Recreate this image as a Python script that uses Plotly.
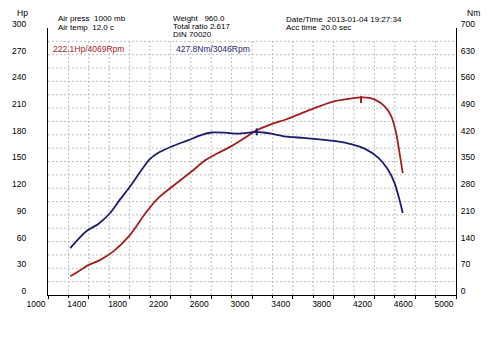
import plotly.graph_objects as go

# ---- data ----
rpm_hp = [1218, 1320, 1385, 1513, 1641, 1801, 1962, 2090, 2282, 2410, 2538, 2667,
          2795, 2923, 3019, 3179, 3340, 3500, 3660, 3820, 3981, 4069, 4150, 4205,
          4301, 4365, 4413, 4446, 4478]
power_hp = [21, 28, 33, 39.5, 49, 67, 93, 110, 127.5, 139, 151, 159.5,
            167, 176, 183.5, 191.5, 197.5, 205, 212, 218, 221, 222.1, 221.5, 219.5,
            212, 201, 182, 160, 137]

rpm_nm = [1218, 1320, 1385, 1497, 1609, 1705, 1801, 1897, 1993, 2090, 2218, 2378,
          2506, 2603, 2731, 2859, 2987, 3046, 3115, 3179, 3340, 3500, 3660, 3820,
          3981, 4109, 4237, 4333, 4397, 4446, 4478]
torque_nm = [123, 153, 169, 187, 215, 250, 283, 320, 355, 374, 390, 406,
             420, 426, 425.5, 423, 426, 427.8, 426, 423.5, 415, 412, 408, 403.5,
             395, 383, 360, 329, 294, 250, 215]

peak_hp = (4069, 222.1)
peak_nm = (3046, 427.8)

hp_ticks = list(range(0, 301, 30))
nm_ticks = list(range(0, 701, 70))
rpm_ticks = list(range(1000, 5001, 400))

header = [
    ("Air press  1000 mb", 48, 19.0),
    ("Air temp  12.0 c", 48, 27.8),
    ("Weight   960.0", 165, 18.8),
    ("Total ratio 2.617", 165, 26.8),
    ("DIN 70020", 165, 34.6),
    ("Date/Time  2013-01-04 19:27:34", 281, 19.5),
    ("Acc time  20.0 sec", 281, 27.8),
]

RED = "#a31e1e"
NAVY = "#1d1d6e"
FONT = "Liberation Sans"
FS = 8.5
HFS = 8

W, H = 500, 347
L, R, T, B = 40, 44, 28, 52
PW, PH = W - L - R, H - T - B


def px(x):
    return (x - L) / PW


def py(y):
    return (H - B - y) / PH


fig = go.Figure()

# grid (stops at 285 Hp like the original)
grid_col = "#bcbcbc"
shapes = []
for v in range(15, 286, 15):
    shapes.append(dict(type="line", xref="x", yref="y", x0=1000, x1=5000, y0=v, y1=v,
                       line=dict(color=grid_col, width=1, dash="2px,2px"), layer="below"))
for r in range(1200, 4801, 200):
    shapes.append(dict(type="line", xref="x", yref="y", x0=r, x1=r, y0=0, y1=285,
                       line=dict(color=grid_col, width=1, dash="2px,2px"), layer="below"))

fig.add_trace(go.Scatter(x=rpm_hp, y=power_hp, mode="lines", yaxis="y",
                         line=dict(color=RED, width=1.8, shape="spline", smoothing=0.6),
                         showlegend=False, hoverinfo="skip"))
fig.add_trace(go.Scatter(x=rpm_nm, y=torque_nm, mode="lines", yaxis="y2",
                         line=dict(color=NAVY, width=1.8, shape="spline", smoothing=0.6),
                         showlegend=False, hoverinfo="skip"))
fig.add_trace(go.Scatter(x=[peak_hp[0]], y=[peak_hp[1] - 2.5], mode="markers", yaxis="y",
                         marker=dict(symbol="line-ns", size=5, line=dict(color=RED, width=2)),
                         showlegend=False, hoverinfo="skip"))
fig.add_trace(go.Scatter(x=[peak_nm[0]], y=[peak_nm[1]], mode="markers", yaxis="y2",
                         marker=dict(symbol="line-ns", size=5, line=dict(color=NAVY, width=2)),
                         showlegend=False, hoverinfo="skip"))

ann = []
for txt, x, y in header:
    ann.append(dict(text=txt, x=px(x), y=py(y), xref="paper", yref="paper",
                    xanchor="left", yanchor="middle", showarrow=False,
                    font=dict(family=FONT, size=HFS, color="#000000")))
ann.append(dict(text=f"{peak_hp[1]}Hp/{peak_hp[0]}Rpm", x=px(43), y=py(49.3),
                xref="paper", yref="paper", xanchor="left", yanchor="middle",
                showarrow=False, font=dict(family=FONT, size=FS, color=RED)))
ann.append(dict(text=f"{peak_nm[1]}Nm/{peak_nm[0]}Rpm", x=px(168), y=py(49.3),
                xref="paper", yref="paper", xanchor="left", yanchor="middle",
                showarrow=False, font=dict(family=FONT, size=FS, color=NAVY)))
ann.append(dict(text="Hp", x=px(14.5), y=py(13), xref="paper", yref="paper",
                xanchor="center", yanchor="middle", showarrow=False,
                font=dict(family=FONT, size=FS, color="#000000")))
ann.append(dict(text="Nm", x=px(474), y=py(13), xref="paper", yref="paper",
                xanchor="center", yanchor="middle", showarrow=False,
                font=dict(family=FONT, size=FS, color="#000000")))

fig.update_layout(
    width=W, height=H,
    margin=dict(l=L, r=R, t=T, b=B, pad=0),
    paper_bgcolor="white", plot_bgcolor="white",
    font=dict(family=FONT, size=FS, color="#000000"),
    shapes=shapes, annotations=ann,
    xaxis=dict(range=[1000, 5000], tickvals=rpm_ticks, ticktext=[str(t) for t in rpm_ticks],
               showgrid=False, zeroline=False, showline=True, linecolor="black", linewidth=1,
               ticks="outside", ticklen=3, tickcolor="black", tickwidth=1,
               minor=dict(dtick=200, ticks="outside", ticklen=2, tickcolor="black", showgrid=False),
               ticklabelshift=-12, ticklabelstandoff=-2,
               tickfont=dict(family=FONT, size=FS)),
    yaxis=dict(range=[0, 300], tickvals=hp_ticks, showgrid=False, zeroline=False,
               showline=True, linecolor="black", linewidth=1, ticks="",
               ticklabelstandoff=19, ticklabelshift=-4,
               tickfont=dict(family=FONT, size=FS)),
    yaxis2=dict(range=[0, 700], tickvals=nm_ticks, overlaying="y", side="right",
                showgrid=False, zeroline=False, showline=True, linecolor="black",
                linewidth=1, ticks="", ticklabelstandoff=2, ticklabelshift=-4,
                tickfont=dict(family=FONT, size=FS)),
)

fig.write_html("out.html")
